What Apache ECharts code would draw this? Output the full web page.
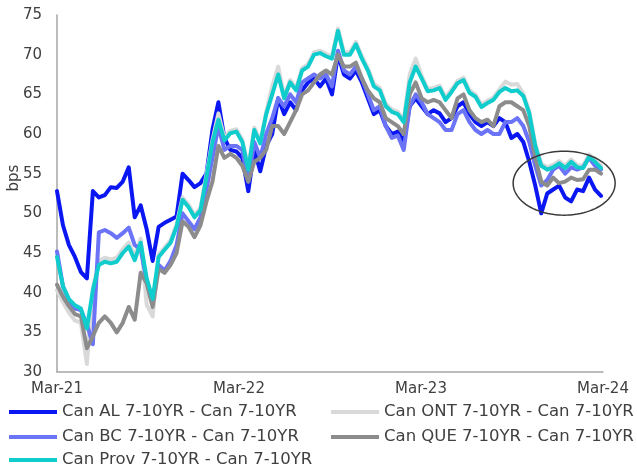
<!DOCTYPE html>
<html>
<head>
<meta charset="utf-8">
<script src="https://cdn.jsdelivr.net/npm/echarts@6/dist/echarts.min.js"></script>
<style>
  html, body { margin: 0; padding: 0; background: #ffffff; }
  #chart { width: 637px; height: 468px; }
</style>
</head>
<body>
<div id="chart"></div>
<script>
// Provincial 7-10YR spreads over Canada 7-10YR, in bps, sampled every 12 days from Mar-21
const stepDays = 12;
const tickLabels = ['Mar-21', 'Mar-22', 'Mar-23', 'Mar-24'];
const seriesNames = [
  'Can AL 7-10YR - Can 7-10YR',
  'Can ONT 7-10YR - Can 7-10YR',
  'Can BC 7-10YR - Can 7-10YR',
  'Can QUE 7-10YR - Can 7-10YR',
  'Can Prov 7-10YR - Can 7-10YR'
];

const canAL = [
  52.8, 48.5, 46.0, 44.5, 42.6, 41.8, 52.8, 52.0, 52.3, 53.3,
  53.2, 54.0, 55.8, 49.5, 51.0, 48.0, 44.0, 48.3, 48.8, 49.2,
  49.6, 55.0, 54.2, 53.3, 53.8, 55.0, 60.5, 64.0, 59.5, 58.0,
  57.8, 57.0, 52.8, 58.0, 55.3, 58.5, 60.0, 64.5, 62.5, 64.0,
  63.0, 65.5, 66.5, 67.0, 66.0, 67.0, 65.0, 70.0, 67.5, 67.0,
  68.0, 66.5, 64.5, 62.5, 63.0, 61.0, 60.0, 60.3, 59.0, 63.5,
  64.5, 63.5, 62.5, 63.0, 62.6, 61.5, 62.0, 63.5, 64.0, 62.5,
  61.5, 61.0, 61.5, 61.0, 62.0, 61.5, 59.5, 60.0, 59.0, 56.5,
  53.5, 50.0, 52.5, 53.0, 53.5, 52.0, 51.5, 53.0, 52.8, 54.5,
  53.0, 52.2
];
const canONT = [
  40.3, 38.8, 37.5, 36.5, 36.2, 31.0, 40.5, 44.0, 44.4, 44.2,
  44.4, 45.5, 46.3, 44.6, 46.8, 38.5, 37.0, 44.8, 45.7, 46.6,
  48.6, 52.0, 51.1, 49.8, 50.7, 54.9, 59.2, 62.6, 59.5, 60.4,
  60.6, 59.3, 55.8, 60.8, 59.1, 62.8, 66.0, 68.5, 64.8, 66.8,
  65.8, 68.3, 68.8, 70.3, 70.5, 70.1, 69.8, 73.3, 70.3, 70.3,
  71.6, 69.8, 68.3, 66.3, 65.8, 63.8, 63.1, 62.8, 61.8, 67.5,
  69.5, 67.3, 65.7, 65.8, 66.1, 64.6, 65.6, 66.7, 67.1, 65.5,
  65.0, 63.7, 64.2, 64.6, 65.6, 66.6, 66.2, 66.3, 65.1, 62.9,
  58.8, 56.3, 55.8, 56.1, 56.6, 56.0, 56.8, 56.1, 56.0, 57.4,
  56.8, 56.0
];
const canBC = [
  45.2, 40.8, 39.0, 38.0, 37.8, 36.0, 33.5, 47.6, 47.9, 47.5,
  46.9, 47.5, 48.2, 46.0, 45.5, 41.5, 38.8, 43.5, 42.8, 44.0,
  46.0, 50.0, 49.0, 48.0, 49.5, 53.0, 57.0, 61.0, 58.0, 58.5,
  58.5, 58.0, 54.0, 59.0, 57.0, 60.0, 62.0, 64.5, 63.5, 65.0,
  64.0, 66.5, 67.0, 67.5, 67.0, 67.5, 66.0, 70.5, 68.0, 67.5,
  68.5, 67.0, 65.0, 63.0, 63.5, 61.0, 59.5, 59.8, 58.0, 63.5,
  65.0, 64.0, 62.5, 62.0, 61.5, 60.5, 60.5, 62.5, 63.0, 61.5,
  60.5, 60.0, 60.5, 60.0, 60.0, 61.5, 61.5, 62.0, 61.0, 59.0,
  56.0, 53.5, 54.2, 55.5, 56.0, 55.0, 55.8, 55.5, 55.8, 57.0,
  56.0, 55.5
];
const canQUE = [
  41.0, 39.5, 38.3, 37.3, 37.0, 33.0, 34.5, 36.2, 37.0, 36.2,
  35.0, 36.2, 38.2, 36.6, 42.5, 41.2, 38.2, 43.0, 42.5, 43.5,
  45.0, 49.0, 48.3, 47.0, 48.5, 51.5, 54.0, 58.5, 57.0, 57.5,
  57.0, 56.0, 54.0, 56.5, 57.0, 58.0, 61.0, 61.0, 60.0, 61.5,
  63.0, 65.0, 65.5, 66.5, 67.5, 68.0, 67.5, 70.0, 68.5, 68.5,
  69.0, 67.0, 65.5, 64.5, 64.0, 62.0, 61.5, 61.0, 60.0, 65.0,
  66.5, 64.5, 64.0, 64.3, 64.0, 63.0, 62.0, 64.5, 65.0, 63.0,
  62.0, 61.5, 61.8, 61.0, 63.5, 64.0, 64.0, 63.5, 63.0, 61.0,
  57.0, 54.0, 53.5, 54.5, 53.8, 54.0, 54.5, 54.2, 54.3, 55.5,
  55.5, 55.0
];
const canProv = [
  44.5, 40.8, 39.2, 38.4, 38.0, 35.5, 40.3, 43.5, 43.9, 43.7,
  43.9, 45.0, 45.8, 44.1, 46.3, 41.8, 39.2, 44.5, 45.4, 46.3,
  48.3, 51.7, 50.8, 49.5, 50.4, 54.6, 58.9, 61.8, 59.2, 60.1,
  60.3, 59.0, 55.5, 60.5, 58.8, 62.5, 65.0, 67.5, 64.5, 66.5,
  65.5, 68.0, 68.5, 70.0, 70.2, 69.8, 69.5, 73.0, 70.0, 70.0,
  71.3, 69.5, 68.0, 66.0, 65.5, 63.5, 62.8, 62.5, 61.5, 66.5,
  68.5, 67.0, 65.4, 65.5, 65.8, 64.3, 65.3, 66.4, 66.8, 65.2,
  64.7, 63.4, 63.9, 64.3, 65.3, 65.8, 65.4, 65.5, 64.8, 62.6,
  58.5, 56.0, 55.5, 55.8, 56.3, 55.7, 56.5, 55.8, 55.7, 57.1,
  56.5, 55.7
];

const seriesValues = [canAL, canONT, canBC, canQUE, canProv];
const seriesColors = ['#0a17f2', '#d9d9d9', '#6b73f7', '#8c8c8c', '#10cccc'];

// day offsets from Mar-21, one per sample
const dayOffsets = canProv.map((_, i) => i * stepDays);
const spanDays = 1096; // Mar-21 to Mar-24
const textColor = '#404040';
const fontFamily = '"DejaVu Sans", sans-serif';

// legend slots: two columns, three rows
const legendSlots = [
  { left: 9, top: 403 },   // AL
  { left: 331, top: 403 }, // ONT
  { left: 9, top: 428 },   // BC
  { left: 331, top: 428 }, // QUE
  { left: 9, top: 451 }    // Prov
];

const chart = echarts.init(document.getElementById('chart'), null, { renderer: 'canvas' });

const option = {
  animation: false,
  backgroundColor: '#ffffff',
  grid: { left: 57, right: 34, top: 15, bottom: 96, containLabel: false },
  xAxis: {
    type: 'value',
    min: 0,
    max: spanDays,
    interval: spanDays / 3,
    axisLine: { show: true, lineStyle: { color: '#a6a6a6', width: 1.5 } },
    axisTick: { show: false },
    splitLine: { show: false },
    axisLabel: {
      color: textColor,
      fontSize: 15,
      fontFamily: fontFamily,
      margin: 10,
      showMinLabel: true,
      showMaxLabel: true,
      formatter: (v) => tickLabels[Math.round(v / (spanDays / 3))]
    }
  },
  yAxis: {
    type: 'value',
    min: 30,
    max: 75,
    interval: 5,
    axisLine: { show: true, lineStyle: { color: '#a6a6a6', width: 1.5 } },
    axisTick: { show: false },
    splitLine: { show: false },
    axisLabel: { color: textColor, fontSize: 15, fontFamily: fontFamily, margin: 15 }
  },
  legend: seriesNames.map((name, k) => ({
    data: [name],
    orient: 'horizontal',
    left: legendSlots[k].left,
    top: legendSlots[k].top,
    padding: 0,
    itemWidth: 48,
    itemHeight: 4,
    icon: 'rect',
    textStyle: { color: textColor, fontSize: 16.5, fontFamily: fontFamily, lineHeight: 18 }
  })),
  series: seriesNames.map((name, k) => ({
    name: name,
    type: 'line',
    showSymbol: false,
    symbol: 'none',
    lineStyle: { width: 4, color: seriesColors[k], join: 'round', cap: 'round' },
    itemStyle: { color: seriesColors[k] },
    data: seriesValues[k].map((v, i) => [dayOffsets[i], v]),
    z: 2 + k
  }))
};

chart.setOption(option);

// "bps" axis title and the ellipse drawn around the latest readings
const center = chart.convertToPixel({ gridIndex: 0 }, [1018, 53.8]);
const rx = 51, ry = 32;
const ellipsePts = [];
for (let a = 0; a < 96; a++) {
  const t = (a / 96) * Math.PI * 2;
  ellipsePts.push([center[0] + rx * Math.cos(t), center[1] + ry * Math.sin(t)]);
}

chart.setOption({
  graphic: [
    {
      type: 'text',
      x: 14.5,
      y: 178,
      rotation: Math.PI / 2,
      style: {
        text: 'bps',
        fontSize: 15,
        fontFamily: fontFamily,
        fill: textColor,
        textAlign: 'center',
        textVerticalAlign: 'middle'
      }
    },
    {
      type: 'polygon',
      shape: { points: ellipsePts },
      style: { fill: 'none', stroke: '#3a3a3a', lineWidth: 1.5 },
      z: 100
    }
  ]
});
</script>
</body>
</html>
